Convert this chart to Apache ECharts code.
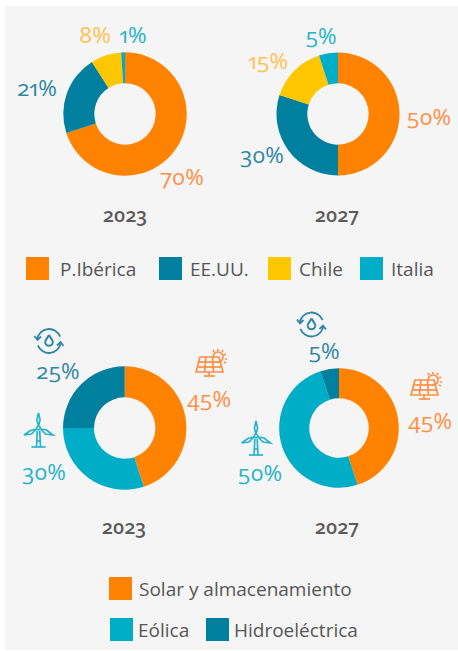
<!DOCTYPE html>
<html><head><meta charset="utf-8">
<style>
html,body{margin:0;padding:0;background:#fff}
#c{width:458px;height:651px;font-feature-settings:"onum" 1,"pnum" 1;}
#c text{font-feature-settings:"onum" 1,"pnum" 1;}
</style>
<script src="https://cdn.jsdelivr.net/npm/echarts@6/dist/echarts.min.js"></script>
</head><body><div id="c"></div>
<script>
const regions=['P.Ibérica','EE.UU.','Chile','Italia'];
const regions2023=[70,21,8,1];
const regions2027=[50,30,15,5];
const techs=['Solar y almacenamiento','Eólica','Hidroeléctrica'];
const techs2023=[45,30,25];
const techs2027=[45,50,5];
const years=['2023','2027'];

const ORANGE='#ff8200',DARK='#007f9f',YEL='#ffc700',TEAL='#00adc6',PANEL='#f5f5f5';
const regionColors=[ORANGE,DARK,YEL,TEAL];
const regionLabelColors=['#ff8f45','#2f86a3','#ffc04f','#27b3c9'];
const techColors=[ORANGE,TEAL,DARK];
const techLabelColors=['#ff8f45','#27b3c9','#2f86a3'];
const FONT='"Open Sans","Noto Sans",sans-serif';

function pie(names,vals,colors,lblColors,c,r,lblPos){
  return {type:'pie',center:c,radius:r,startAngle:90,clockwise:true,silent:true,
    avoidLabelOverlap:false,animation:false,
    label:{show:true,position:'outside',formatter:'{c}%',fontFamily:FONT,fontSize:22.5,fontWeight:400},
    labelLine:{show:false},
    labelLayout:p=>({x:lblPos[p.dataIndex][0],y:lblPos[p.dataIndex][1],align:'center',verticalAlign:'middle'}),
    data:names.map((n,i)=>({name:n,value:vals[i],itemStyle:{color:colors[i]},label:{color:lblColors[i]}}))};
}
const series=[
 pie(regions,regions2023,regionColors,regionLabelColors,[125,114],[30.7,61.7],[[182,176],[37,87],[95,34],[133,34]]),
 pie(regions,regions2027,regionColors,regionLabelColors,[338,114],[30.7,61.5],[[429,116],[262,154],[268,60],[321,35]]),
 pie(techs,techs2023,techColors,techLabelColors,[124.7,428],[30.7,61.7],[[209,398],[44,471],[58,370]]),
 pie(techs,techs2027,techColors,techLabelColors,[339,428],[29.8,59.8],[[430,420],[260,472],[324,350]])
];
const legendPos=[[regions[0],26,257,6,[0,0,2]],[regions[1],159,257,3,[3,0,0]],[regions[2],268,257,3,[3,0,0]],[regions[3],360,257,3,[0,0,2]],
 [techs[0],109,577,2,[0,0,5]],[techs[1],110,618,0,[0,0,5]],[techs[2],206,618,0,[0,0,5]]];
const legend=legendPos.map(l=>({data:[l[0]],left:l[1],top:l[2],padding:0,orient:'horizontal',selectedMode:false,
  icon:'rect',itemWidth:23,itemHeight:23,textStyle:{fontFamily:FONT,fontSize:19,color:'#555',padding:[l[4][0],0,l[4][2],l[3]]}}));
const titlePos=[[125,204,0],[337,204,1],[124,516,0],[337,516,1]];
const title=titlePos.map(t=>({text:years[t[2]],left:t[0],top:t[1],textAlign:'center',padding:0,
  textStyle:{fontFamily:FONT,fontSize:19.5,fontWeight:600,color:'#5c5a5a'}}));

function turbine(x,y,col){
  const st={stroke:col,fill:'none',lineWidth:1.7};
  const poly=p=>({type:'polyline',shape:{points:p},style:st});
  return {type:'group',x,y,children:[
    poly([[0,-2],[-1.6,-8],[0,-15],[1.6,-8],[0,-2]]),
    poly([[-2,1],[-8,2.5],[-14.5,7],[-7,6],[-2,1]]),
    poly([[2,1],[8,2],[14.5,7],[7,6],[2,1]]),
    {type:'circle',shape:{cx:0,cy:0,r:1.8},style:st},
    poly([[-1.2,3],[-2,19]]),poly([[1.2,3],[2,19]]),
    poly([[-7,19],[7,19]]),poly([[-2,13],[2,13]])
  ]};
}
function solar(x,y,col){
  const st={stroke:col,fill:'none',lineWidth:1.7};
  const l=(a,b,c,d)=>({type:'line',shape:{x1:a,y1:b,x2:c,y2:d},style:st});
  const rays=[[9,-15,9,-13],[4,-14,5,-12],[14,-14,13,-12],[17,-10,15,-9],[18,-5,16,-5],[17,-1,15,-2]];
  return {type:'group',x,y,children:[
    {type:'polygon',shape:{points:[[-9,-7],[10,-7],[14,8],[-13,8]]},style:{stroke:col,fill:PANEL,lineWidth:1.7}},
    l(-10.5,-2,11,-2),l(-12,3,12.5,3),l(-3,-7,-4.5,8),l(3.5,-7,4.5,8),
    l(-5,12,6,12),l(0,8,0,12),
    {type:'arc',shape:{cx:9,cy:-7,r:5,startAngle:-Math.PI*1.05,endAngle:Math.PI*0.55,clockwise:true},style:st},
    ...rays.map(r=>l(r[0],r[1],r[2],r[3]))
  ]};
}
function water(x,y,col){
  const st={stroke:col,fill:'none',lineWidth:1.8};
  const dr={stroke:col,fill:'none',lineWidth:2};
  return {type:'group',x,y,children:[
    {type:'arc',shape:{cx:0,cy:0,r:12,startAngle:-Math.PI*0.95,endAngle:-Math.PI*0.12,clockwise:true},style:st},
    {type:'arc',shape:{cx:0,cy:0,r:12,startAngle:Math.PI*0.05,endAngle:Math.PI*0.88,clockwise:true},style:st},
    {type:'polyline',shape:{points:[[-14.5,-5],[-11.5,-1],[-8,-4.5]]},style:st},
    {type:'polyline',shape:{points:[[14.5,5],[11.5,1],[8,4.5]]},style:st},
    {type:'bezierCurve',shape:{x1:0,y1:-6,x2:3.8,y2:1,cpx1:1.5,cpy1:-3,cpx2:3.8,cpy2:-1},style:dr},
    {type:'bezierCurve',shape:{x1:0,y1:-6,x2:-3.8,y2:1,cpx1:-1.5,cpy1:-3,cpx2:-3.8,cpy2:-1},style:dr},
    {type:'arc',shape:{cx:0,cy:1,r:3.8,startAngle:0,endAngle:Math.PI,clockwise:true},style:dr}
  ]};
}
const graphic={elements:[
  {type:'rect',shape:{x:5,y:6,width:453,height:644},style:{fill:PANEL},z:-10},
  turbine(38.5,428,'#27b3c9'),turbine(256,436,'#27b3c9'),
  solar(209,364,'#ff8f45'),solar(424,387,'#ff8f45'),
  water(49,341,'#2f86a3'),water(311.5,324.5,'#2f86a3')
]};
const chart=echarts.init(document.getElementById('c'),null,{renderer:'svg',width:458,height:651});
chart.setOption({animation:false,backgroundColor:'#fff',series,legend,title,graphic});
</script></body></html>
